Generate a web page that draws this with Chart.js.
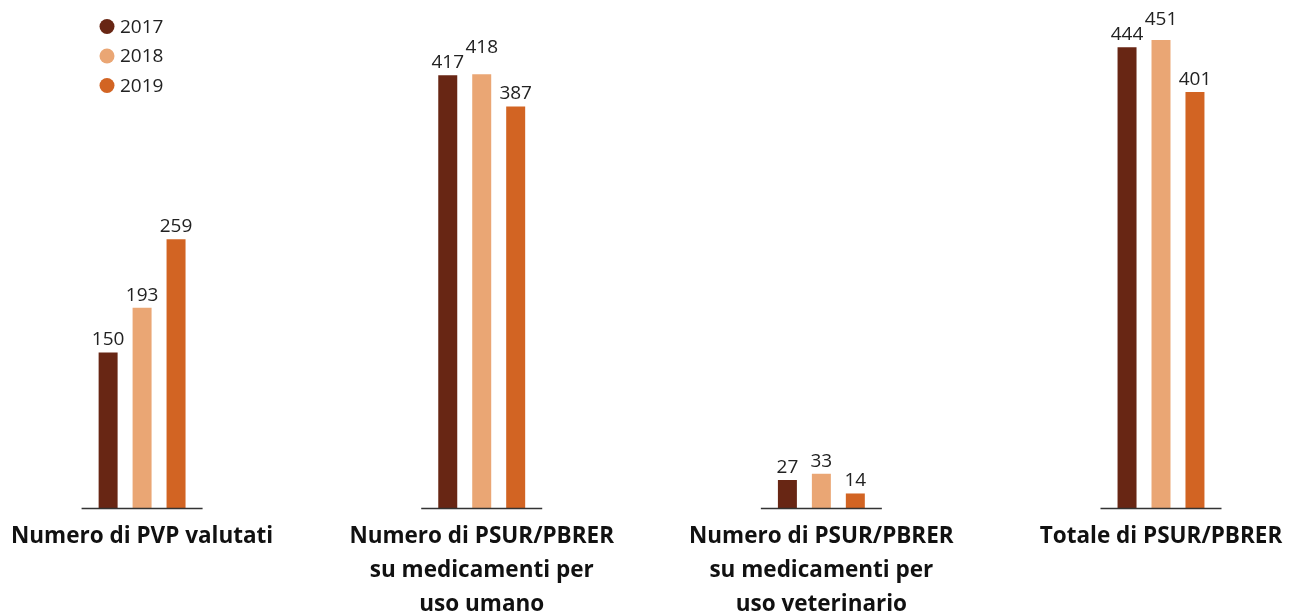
<!DOCTYPE html>
<html><head><meta charset="utf-8">
<script src="https://cdn.jsdelivr.net/npm/chart.js@4"></script>
<style>html,body{margin:0;padding:0;background:#fff}#wrap{width:1298px;height:614px}</style>
</head><body><div id="wrap"><canvas id="c" width="1298" height="614"></canvas></div>
<script>
const categories = [
  ["Numero di PVP valutati"],
  ["Numero di PSUR/PBRER", "su medicamenti per", "uso umano"],
  ["Numero di PSUR/PBRER", "su medicamenti per", "uso veterinario"],
  ["Totale di PSUR/PBRER"]
];
const seriesLabels = ["2017", "2018", "2019"];
const values2017 = [150, 417, 27, 444];
const values2018 = [193, 418, 33, 451];
const values2019 = [259, 387, 14, 401];
const colors = ["#682614", "#EAA674", "#D26423"];

const decor = {
  id: 'decor',
  afterDatasetsDraw(chart) {
    const ctx = chart.ctx, x = chart.scales.x, area = chart.chartArea;
    ctx.save();
    ctx.strokeStyle = '#333'; ctx.lineWidth = 1.5;
    categories.forEach((c, i) => {
      const px = x.getPixelForValue(i);
      ctx.beginPath();
      ctx.moveTo(px - 60.5, area.bottom + 0.5);
      ctx.lineTo(px + 60.5, area.bottom + 0.5);
      ctx.stroke();
    });
    ctx.font = '19px "Open Sans"';
    ctx.fillStyle = '#222';
    ctx.textAlign = 'center';
    ctx.textBaseline = 'alphabetic';
    const n = chart.data.datasets.length;
    categories.forEach((c, i) => {
      const items = [];
      for (let d = 0; d < n; d++) {
        const el = chart.getDatasetMeta(d).data[i];
        const txt = String(chart.data.datasets[d].data[i]);
        items.push({x: el.x, y: el.y - 7, txt, w: ctx.measureText(txt).width});
      }
      const m = items[1];
      [items[0], items[2]].forEach(nb => {
        if ((m.w + nb.w) / 2 > Math.abs(m.x - nb.x) - 8 && Math.abs(m.y - nb.y) < 15) {
          m.y = Math.min(m.y, nb.y - 15);
        }
      });
      items.forEach(it => ctx.fillText(it.txt, it.x, it.y));
    });
    chart.data.datasets.forEach((ds, d) => {
      const cy = 26.5 + 29.5 * d;
      ctx.fillStyle = ds.backgroundColor;
      ctx.beginPath(); ctx.arc(107, cy, 7.5, 0, Math.PI * 2); ctx.fill();
      ctx.fillStyle = '#222'; ctx.textAlign = 'left'; ctx.textBaseline = 'middle';
      ctx.fillText(ds.label, 120, cy + 1);
    });
    ctx.restore();
  }
};

const mk = (i, data) => ({
  label: seriesLabels[i], data, backgroundColor: colors[i],
  barPercentage: 0.559, categoryPercentage: 0.3, clip: false
});

new Chart(document.getElementById('c'), {
  type: 'bar',
  data: { labels: categories, datasets: [mk(0, values2017), mk(1, values2018), mk(2, values2019)] },
  options: {
    responsive: false, animation: false,
    layout: { padding: { left: 141, right: 137, top: 10, bottom: 0 } },
    plugins: { legend: { display: false }, tooltip: { enabled: false } },
    scales: {
      x: {
        offset: false,
        grid: { display: false, drawTicks: false },
        border: { display: false },
        ticks: { color: '#111', font: { family: '"Open Sans"', size: 22.5, weight: 'bold', lineHeight: 1.52 }, padding: 11, maxRotation: 0, autoSkip: false },
        afterFit(s) { s.height = 106; }
      },
      y: { display: false, min: 0, max: 480 }
    }
  },
  plugins: [decor]
});
</script></body></html>
